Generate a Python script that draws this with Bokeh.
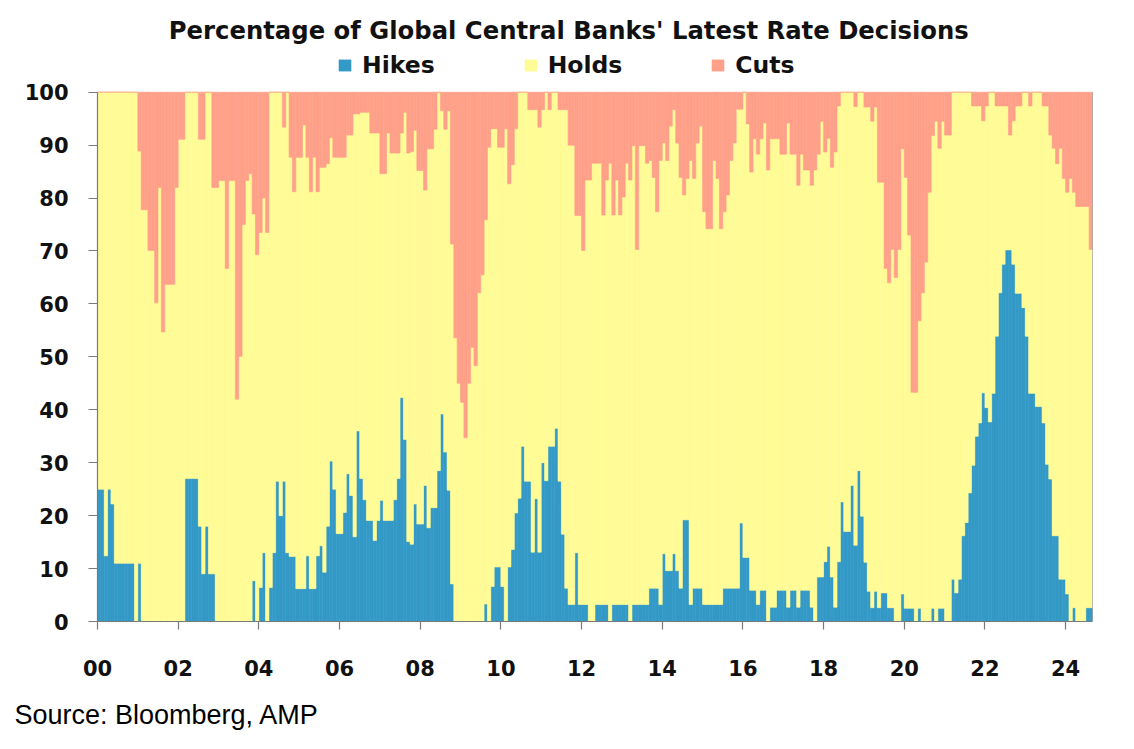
from bokeh.plotting import figure
from bokeh.models import (Range1d, FixedTicker, Legend, LegendItem, Title, Label,
                          ColumnDataSource)
from bokeh.embed import file_html
from bokeh.resources import INLINE

# ---- data (monthly, Jan 2000 .. Aug 2024), % of central banks ----
hikes = [
    25, 25, 12.4, 25, 22.2, 11, 11, 11, 11, 11,
    11, 0, 11, 0, 0, 0, 0, 0, 0, 0,
    0, 0, 0, 0, 0, 0, 27, 27, 27, 27,
    18, 9, 18, 9, 9, 0, 0, 0, 0, 0,
    0, 0, 0, 0, 0, 0, 7.7, 0, 6.4, 13,
    0, 6.4, 13, 26.5, 20, 26.5, 13, 12.3, 12.3, 6.2,
    6.2, 6.2, 12.4, 6.2, 6.2, 12.4, 14.3, 9.3, 18, 30.3,
    25, 16.6, 16.6, 20.6, 27.9, 23.8, 16, 36, 27, 23,
    19.1, 19.1, 15.3, 19.1, 22.9, 19.1, 19.1, 19.1, 23, 27,
    42.3, 34.4, 15.1, 14.6, 22.2, 18.4, 18.4, 25.7, 17.7, 21.5,
    21.5, 28.5, 39.2, 32, 24.8, 7.1, 0, 0, 0, 0,
    0, 0, 0, 0, 0, 3.3, 0, 6.6, 10.3, 10.3,
    6.6, 0, 10.3, 13.6, 20.5, 23.3, 33.1, 26.5, 26.5, 13.1,
    23.2, 13.1, 30, 26.6, 33.1, 33.1, 36.5, 26.5, 16.5, 6.3,
    3.2, 3.2, 13, 3.2, 3.2, 3.2, 0, 0, 3.2, 3.2,
    3.2, 3.2, 0, 3.2, 3.2, 3.2, 3.2, 3.2, 0, 3.2,
    3.2, 3.2, 3.2, 3.2, 6.3, 6.3, 6.3, 3.2, 12.8, 9.6,
    9.6, 12.8, 9.6, 6.3, 19.2, 19.2, 3.2, 6.3, 6.3, 6.3,
    3.2, 3.2, 3.2, 3.2, 3.2, 3.2, 6.3, 6.3, 6.3, 6.3,
    6.3, 18.6, 12.1, 12.1, 5.9, 5.9, 3.2, 5.9, 5.9, 0,
    2.7, 2.7, 5.9, 5.9, 5.9, 2.7, 5.9, 5.9, 2.7, 5.9,
    5.9, 5.9, 2.7, 0, 8.4, 8.4, 11.3, 14.2, 8.4, 2.7,
    11.3, 22.6, 17, 17, 25.7, 14.4, 28.5, 19.9, 11.2, 5.7,
    2.6, 5.7, 2.6, 5.4, 5.4, 2.6, 2.6, 0, 0, 5.2,
    2.5, 2.5, 2.5, 0, 2.5, 0, 0, 0, 2.5, 0,
    2.5, 2.5, 0, 0, 8, 5.4, 8, 16.2, 18.7, 24.3,
    29.5, 35, 37.5, 43.2, 40.4, 37.7, 43.1, 53.9, 62.1, 67.5,
    70.2, 70.2, 67.5, 62, 62, 59.3, 53.9, 43.1, 43.1, 40.6,
    40.6, 37.5, 29.7, 26.9, 16.2, 16.2, 8, 8, 5.2, 0,
    2.6, 0, 0, 0, 2.6, 2.6,
]

cuts = [
    0, 0, 0, 0, 0, 0, 0, 0, 0, 0,
    0, 0, 11.1, 22.2, 22.2, 29.9, 29.9, 39.8, 18, 45.3,
    36.3, 36.3, 36.3, 18, 8.9, 8.9, 0, 0, 0, 0,
    8.9, 8.9, 0, 0, 18, 18, 16.7, 16.7, 33.3, 16.7,
    16.7, 58, 49.9, 25, 16.7, 15.4, 23, 30.7, 26.5, 20,
    26.5, 0, 0, 0, 0, 6.6, 0, 12.3, 18.8, 12.3,
    12.3, 6.2, 12.3, 18.8, 12.3, 18.8, 14.2, 14.2, 13.5, 8.6,
    12.3, 12.3, 12.3, 12.3, 8.1, 8.1, 4.1, 4.1, 3.8, 3.8,
    3.8, 7.7, 7.7, 7.7, 15.4, 15.4, 7.7, 11.5, 11.5, 11.5,
    7.7, 3.8, 11.5, 11.2, 7.2, 14.8, 14.8, 18.5, 10.7, 10.7,
    7, 0, 3.5, 7, 3.5, 28.7, 46.4, 55, 58.6, 65.3,
    55, 48.2, 51.7, 37.9, 34.5, 24.1, 10.4, 6.9, 6.9, 10.4,
    10.4, 6.9, 17.3, 13.7, 6.9, 0, 0, 0, 3.3, 3.3,
    3.3, 6.6, 3.3, 0, 3.3, 0, 0, 3.3, 3.3, 3.3,
    10, 10, 23.3, 23.3, 29.9, 16.6, 16.6, 13.4, 13.4, 13.4,
    23.2, 16.6, 13.4, 23.2, 16.6, 23.2, 19.8, 13.4, 16.6, 10.1,
    29.7, 10.1, 10.1, 13.4, 12.9, 16.1, 22.6, 12.9, 9.6, 12.9,
    6.4, 3.3, 9.6, 16.1, 19.4, 16.3, 12.9, 16.3, 9.6, 6.4,
    22.6, 25.8, 25.8, 12.9, 16.3, 25.8, 22.6, 19.4, 12.9, 9.6,
    3.2, 3.2, 0, 6, 15.1, 8.8, 11.7, 8.8, 5.8, 14.7,
    8.8, 8.8, 8.8, 11.7, 11.7, 5.8, 11.7, 11.7, 17.6, 11.7,
    14.7, 14.7, 17.6, 14.7, 11.7, 5.5, 11.3, 8.7, 14.2, 11.3,
    2.6, 0, 0, 0, 0, 2.7, 0, 0, 2.8, 2.8,
    5.5, 2.8, 17, 17, 33.3, 36, 29.7, 35, 29.7, 10.7,
    16.1, 27, 56.7, 56.7, 43.2, 37.9, 32.1, 18.9, 8.2, 5.5,
    10.6, 5.5, 8.1, 8.1, 0, 0, 0, 0, 0, 0,
    2.6, 2.6, 2.6, 5.4, 2.6, 0, 0, 2.6, 2.6, 2.6,
    2.6, 8.1, 5.4, 2.6, 2.6, 0, 0, 2.6, 0, 0,
    0, 2.6, 2.6, 8.1, 10.6, 13.5, 10.6, 16.3, 18.9, 16.3,
    18.9, 21.6, 21.6, 21.6, 21.6, 29.7,
]

year_labels = ["00", "02", "04", "06", "08", "10", "12",
               "14", "16", "18", "20", "22", "24"]
series_names = ["Hikes", "Holds", "Cuts"]
series_colors = ["#3399C6", "#FFFB96", "#FFA089"]
chart_title = "Percentage of Global Central Banks' Latest Rate Decisions"
source_note = "Source: Bloomberg, AMP"

# ---- build table ----
n = len(hikes)
holds = [round(100 - h - c, 2) for h, c in zip(hikes, cuts)]
src = ColumnDataSource(dict(x=[i + 0.5 for i in range(n)],
                            Hikes=hikes, Holds=holds, Cuts=cuts))

BOLD_FONT = "DejaVu Sans"
AXIS_GREY = "#7a7a7a"

# frame reaches to the top of the canvas so that title and legend sit inside it
W, H = 1126, 749
B_LEFT, B_RIGHT, B_TOP, B_BOTTOM = 97, 34, 8, 128
frame_h = H - B_TOP - B_BOTTOM
px_per_unit = 5.293
y_top = frame_h / px_per_unit

p = figure(width=W, height=H,
           x_range=Range1d(0, n), y_range=Range1d(0, y_top),
           output_backend="svg", toolbar_location=None,
           min_border_left=B_LEFT, min_border_right=B_RIGHT,
           min_border_top=B_TOP, min_border_bottom=B_BOTTOM)

p.background_fill_color = "white"
p.border_fill_color = "white"
p.outline_line_color = None
p.grid.visible = False

renderers = p.vbar_stack(series_names, x="x", width=1.0, source=src,
                         fill_color=series_colors, line_color=series_colors,
                         line_width=0.6)

# right-hand edge of the plot area
p.segment(x0=[n], y0=[0], x1=[n], y1=[100], line_color=AXIS_GREY, line_width=1)

# ---- axes ----
ticks_x = [i * 24 for i in range(len(year_labels))]
p.xaxis.ticker = FixedTicker(ticks=ticks_x)
p.xaxis.major_label_overrides = {t: lab for t, lab in zip(ticks_x, year_labels)}
p.yaxis.ticker = FixedTicker(ticks=list(range(0, 101, 10)))
p.yaxis.bounds = (0, 100)

for ax in (p.xaxis[0], p.yaxis[0]):
    ax.axis_line_color = AXIS_GREY
    ax.axis_line_width = 1.2
    ax.major_tick_line_color = AXIS_GREY
    ax.major_tick_line_width = 1.2
    ax.major_tick_in = 0
    ax.minor_tick_line_color = None
    ax.major_label_text_font = BOLD_FONT
    ax.major_label_text_font_style = "bold"
    ax.major_label_text_font_size = "21px"
    ax.major_label_text_color = "#111111"

p.xaxis.major_tick_out = 8
p.xaxis.major_label_standoff = 30
p.yaxis.major_tick_out = 9
p.yaxis.major_label_standoff = 20

# ---- legend ----
legend = Legend(items=[LegendItem(label=name, renderers=[r])
                       for name, r in zip(series_names, renderers)],
                orientation="horizontal", location=(240, 542),
                glyph_width=15, glyph_height=14, label_standoff=10,
                spacing=88, padding=0, margin=0,
                label_text_font=BOLD_FONT, label_text_font_style="bold",
                label_text_font_size="23.5px", label_text_color="#111111",
                background_fill_alpha=0, border_line_color=None)
p.add_layout(legend, "center")

# ---- title ----
p.add_layout(Label(x=140.2, y=111.6, text=chart_title,
                   text_align="center", text_baseline="middle",
                   text_font=BOLD_FONT, text_font_style="bold",
                   text_font_size="24.3px", text_color="#111111"))

# ---- source ----
p.add_layout(Title(text=source_note, align="left", offset=-83,
                   text_font="Liberation Sans", text_font_style="normal",
                   text_font_size="27px", text_color="#000000",
                   standoff=39), "below")

open("out.html", "w").write(file_html(p, INLINE))
